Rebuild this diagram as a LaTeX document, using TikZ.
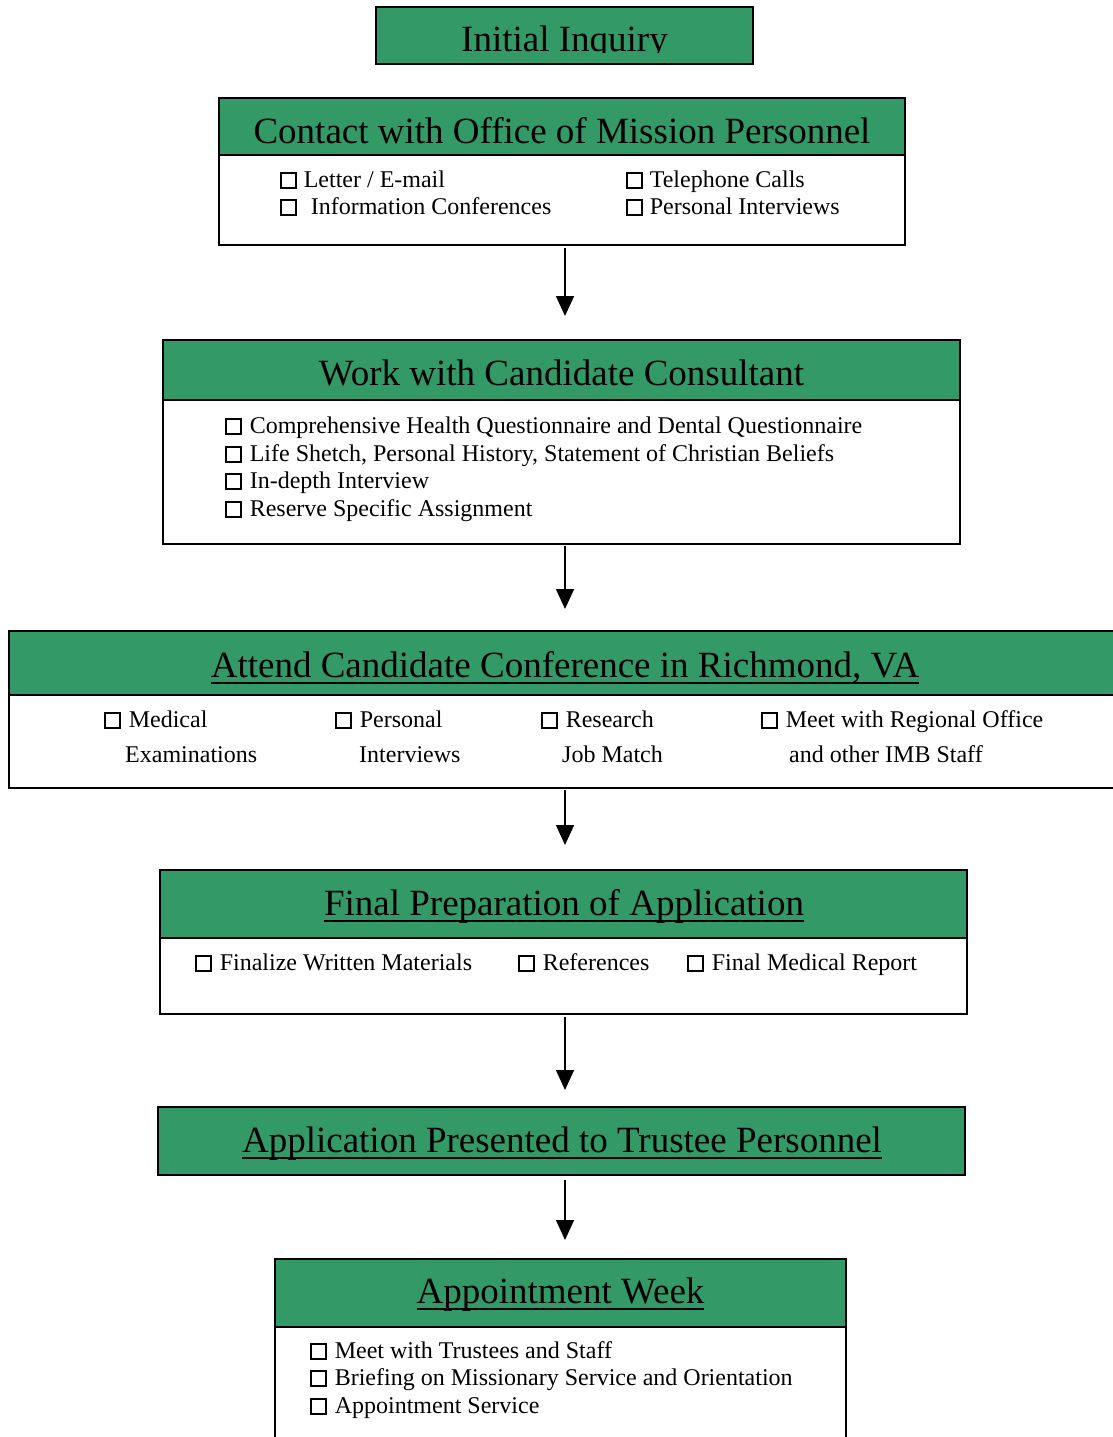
\documentclass[tikz,border=0pt]{standalone}
\usepackage{fontspec}
\setmainfont{Liberation Serif}
\usetikzlibrary{arrows.meta}
\definecolor{hdrgreen}{RGB}{51,153,102}
\newcommand\myul[1]{\leavevmode\setbox0=\hbox{#1}\rlap{\vrule height -5pt depth 6.8pt width \wd0}\box0}
\newcommand\cbx{\begingroup\fboxsep=0pt\fboxrule=1.8pt\fbox{\rule{0pt}{13pt}\hspace{13pt}}\endgroup}
\tikzset{
  hdr/.style={draw=black, line width=1.6pt, fill=hdrgreen, anchor=north west, inner sep=0pt, outer sep=0pt},
  body/.style={draw=black, line width=1.6pt, fill=white, anchor=north west, inner sep=0pt, outer sep=0pt},
  ttl/.style={anchor=base, font=\fontsize{37}{40}\selectfont, inner sep=0pt},
  itm/.style={anchor=base west, font=\fontsize{24}{28}\selectfont, inner sep=0pt},
  arr/.style={line width=1.6pt, -{Triangle[width=18pt,length=20pt]}}
}
\begin{document}
\begin{tikzpicture}[x=1pt,y=-1pt]
\useasboundingbox[fill=white] (0,0) rectangle (1112,1437);
\coordinate (ax) at (565,0);

% Box 1
\node[hdr, minimum width=377pt, minimum height=57pt] (h1) at (376,7) {};
\begin{scope}
  \clip (376,7) rectangle (753,53);
  \node[ttl] (t1) at (564.5,52) {Initial Inquiry};
\end{scope}

% Box 2
\node[body, minimum width=686pt, minimum height=90pt] (b2) at (219,155) {};
\node[hdr, minimum width=686pt, minimum height=57pt] (h2) at (219,98) {};
\node[ttl] (t2) at (562,143) {Contact with Office of Mission Personnel};
\node[itm] (i2a) at (280,187) {\cbx\hspace{7pt}Letter / E-mail};
\node[itm] (i2b) at (280,214) {\cbx\hspace{14pt}Information Conferences};
\node[itm] (i2c) at (626,187) {\cbx\hspace{7pt}Telephone Calls};
\node[itm] (i2d) at (626,214) {\cbx\hspace{7pt}Personal Interviews};

% Box 3
\node[body, minimum width=797pt, minimum height=144pt] (b3) at (163,400) {};
\node[hdr, minimum width=797pt, minimum height=60pt] (h3) at (163,340) {};
\node[ttl] (t3) at (561.5,385) {Work with Candidate Consultant};
\node[itm] (i3a) at (225,433) {\cbx\hspace{8pt}Comprehensive Health Questionnaire and Dental Questionnaire};
\node[itm] (i3b) at (225,461) {\cbx\hspace{8pt}Life Shetch, Personal History, Statement of Christian Beliefs};
\node[itm] (i3c) at (225,488) {\cbx\hspace{8pt}In-depth Interview};
\node[itm] (i3d) at (225,516) {\cbx\hspace{8pt}Reserve Specific Assignment};

% Box 4
\node[body, minimum width=1120pt, minimum height=93pt] (b4) at (9,695) {};
\node[hdr, minimum width=1120pt, minimum height=64pt] (h4) at (9,631) {};
\node[ttl] (t4) at (565,677) {\myul{Attend Candidate Conference in Richmond, VA}};
\node[itm] (i4a) at (104,727) {\cbx\hspace{8pt}Medical};
\node[itm] (i4b) at (125,762) {Examinations};
\node[itm] (i4c) at (335,727) {\cbx\hspace{8pt}Personal};
\node[itm] (i4d) at (359,762) {Interviews};
\node[itm] (i4e) at (541,727) {\cbx\hspace{8pt}Research};
\node[itm] (i4f) at (562,762) {Job Match};
\node[itm] (i4g) at (761,727) {\cbx\hspace{8pt}Meet with Regional Office};
\node[itm] (i4h) at (789,762) {and other IMB Staff};

% Box 5
\node[body, minimum width=807pt, minimum height=76pt] (b5) at (160,938) {};
\node[hdr, minimum width=807pt, minimum height=68pt] (h5) at (160,870) {};
\node[ttl] (t5) at (564,915) {\myul{Final Preparation of Application}};
\node[itm] (i5a) at (195,970) {\cbx\hspace{8pt}Finalize Written Materials};
\node[itm] (i5b) at (518,970) {\cbx\hspace{8pt}References};
\node[itm] (i5c) at (687,970) {\cbx\hspace{8pt}Final Medical Report};

% Box 6
\node[hdr, minimum width=807pt, minimum height=68pt] (h6) at (158,1107) {};
\node[ttl] (t6) at (562,1152) {\myul{Application Presented to Trustee Personnel}};

% Box 7
\node[body, minimum width=571pt, minimum height=140pt] (b7) at (275,1327) {};
\node[hdr, minimum width=571pt, minimum height=68pt] (h7) at (275,1259) {};
\node[ttl] (t7) at (560.5,1303) {\myul{Appointment Week}};
\node[itm] (i7a) at (310,1358) {\cbx\hspace{8pt}Meet with Trustees and Staff};
\node[itm] (i7b) at (310,1385) {\cbx\hspace{8pt}Briefing on Missionary Service and Orientation};
\node[itm] (i7c) at (310,1413) {\cbx\hspace{8pt}Appointment Service};

% Arrows
\draw[arr, shorten <=3pt, shorten >=24pt] (b2.south -| ax) -- (h3.north -| ax);
\draw[arr, shorten <=2pt, shorten >=22pt] (b3.south -| ax) -- (h4.north -| ax);
\draw[arr, shorten <=2pt, shorten >=25pt] (b4.south -| ax) -- (h5.north -| ax);
\draw[arr, shorten <=3pt, shorten >=17pt] (b5.south -| ax) -- (h6.north -| ax);
\draw[arr, shorten <=5pt, shorten >=19pt] (h6.south -| ax) -- (h7.north -| ax);
\end{tikzpicture}
\end{document}
